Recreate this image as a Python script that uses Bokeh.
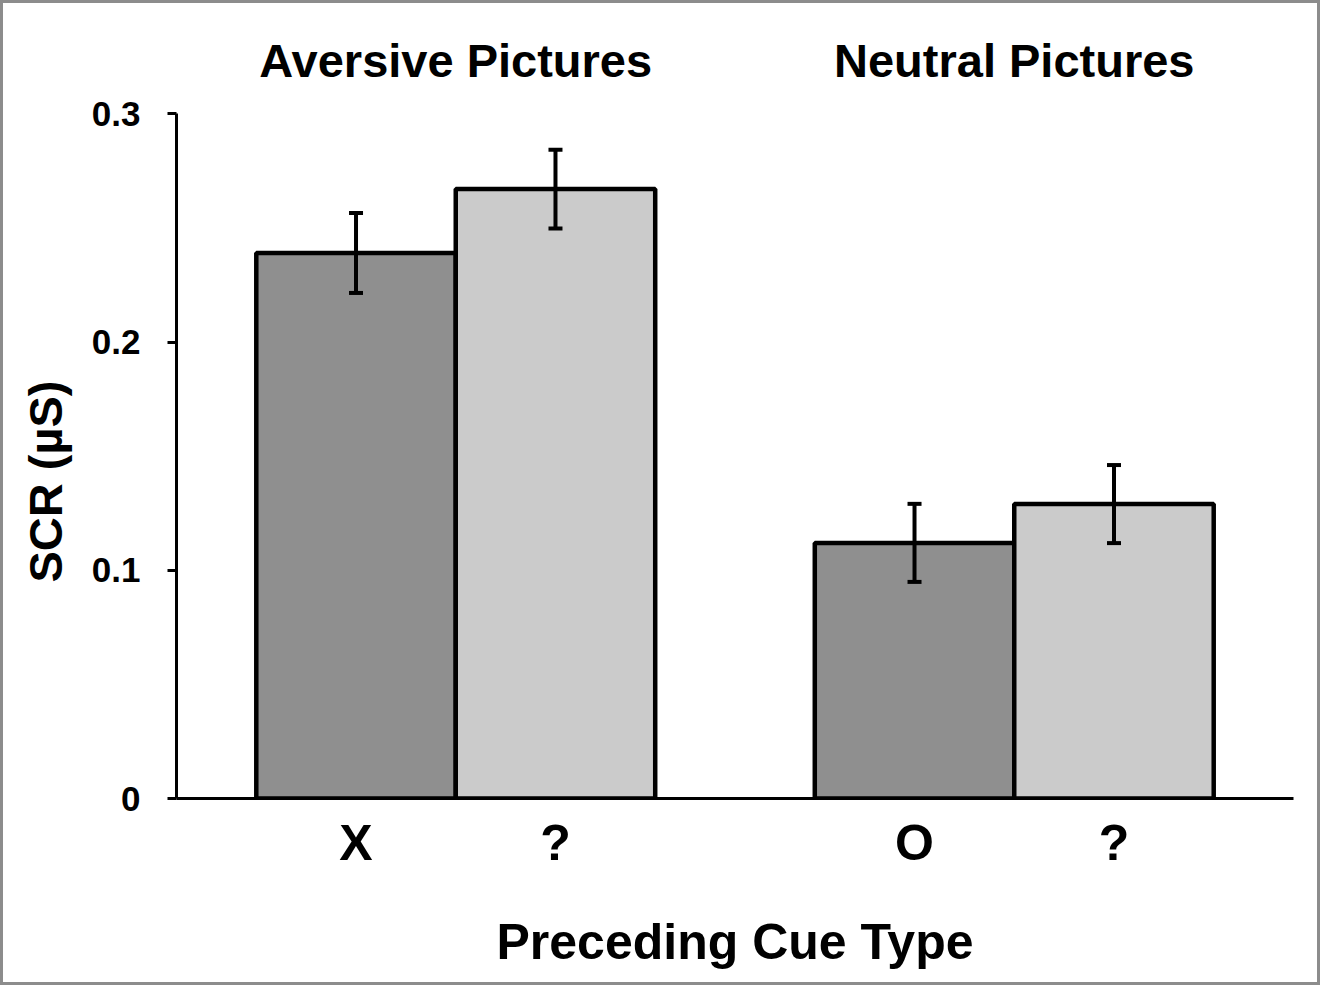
from bokeh.plotting import figure
from bokeh.models import ColumnDataSource, FixedTicker, CustomJSTickFormatter, Whisker, TeeHead, Range1d, Title
from bokeh.core.properties import value
from bokeh.embed import file_html
from bokeh.resources import INLINE

# ---- data ----
groups = ["Aversive Pictures", "Neutral Pictures"]
cues = [["X", "?"], ["O", "?"]]
means = [[0.239, 0.267], [0.112, 0.129]]
sems = [[0.0175, 0.0173], [0.0171, 0.0171]]
colors = ["#8f8f8f", "#cbcbcb"]
y_ticks = [0, 0.1, 0.2, 0.3]
y_title = "SCR (µS)"
x_title = "Preceding Cue Type"

FONT = "Liberation Sans"

# layout in axis units (bar width = 10)
BAR_W = 10
LEFT_GAP = 4
GROUP_GAP = 8

xs, tops, lows, highs, fills, labels = [], [], [], [], [], []
group_centers = []
for g, grp in enumerate(groups):
    start = LEFT_GAP + g * (2 * BAR_W + GROUP_GAP)
    group_centers.append(start + BAR_W)
    for c, cue in enumerate(cues[g]):
        x = start + c * BAR_W + BAR_W / 2
        xs.append(x)
        tops.append(means[g][c])
        lows.append(means[g][c] - sems[g][c])
        highs.append(means[g][c] + sems[g][c])
        fills.append(colors[c])
        labels.append(cue)

src = ColumnDataSource(dict(x=xs, top=tops, lower=lows, upper=highs, fill=fills))

x_end = 2 * LEFT_GAP + 4 * BAR_W + GROUP_GAP
p = figure(width=1320, height=985, output_backend="svg", toolbar_location=None,
           x_range=Range1d(0, x_end), y_range=Range1d(0, 0.34),
           min_border_left=170, min_border_right=30, min_border_top=19, min_border_bottom=190)
p.styles = {"border": "3px solid #8c8c8c"}

p.vbar(x="x", top="top", bottom=0, width=BAR_W, source=src, fill_color="fill",
       line_color="black", line_width=4.5)

w = Whisker(source=src, base="x", upper="upper", lower="lower", line_color="black", line_width=4,
            upper_head=TeeHead(size=14, line_color="black", line_width=4),
            lower_head=TeeHead(size=14, line_color="black", line_width=4))
w.level = "overlay"
p.add_layout(w)

# group titles
p.text(x=group_centers, y=[0.3235, 0.3235], text=groups, text_align="center", text_baseline="middle",
       text_font=value(FONT), text_font_style="bold", text_font_size="47px", text_color="black")

# axes
p.xgrid.visible = False
p.ygrid.visible = False
p.outline_line_color = None
p.background_fill_color = "white"
p.border_fill_color = "white"

ya = p.yaxis[0]
ya.ticker = FixedTicker(ticks=y_ticks)
ya.bounds = (0, 0.3)
ya.formatter = CustomJSTickFormatter(code="return tick == 0 ? '0' : tick.toFixed(1);")
ya.axis_line_width = 3
ya.axis_line_color = "black"
ya.major_tick_line_width = 3
ya.major_tick_line_color = "black"
ya.major_tick_out = 9
ya.major_tick_in = 0
ya.minor_tick_line_color = None
ya.major_label_text_font = FONT
ya.major_label_text_font_style = "bold"
ya.major_label_text_font_size = "35px"
ya.major_label_text_color = "black"
ya.major_label_standoff = 27

# y-axis title as a side title (so it can sit lower, as in the original)
p.add_layout(Title(text=y_title, align="left", offset=216, standoff=30, vertical_align="top",
                   text_font=FONT, text_font_style="bold", text_font_size="47px",
                   text_color="black"), "left")

xa = p.xaxis[0]
xa.ticker = FixedTicker(ticks=xs)
xa.major_label_overrides = {x: l for x, l in zip(xs, labels)}
xa.axis_line_width = 3
xa.axis_line_color = "black"
xa.major_tick_line_color = None
xa.major_tick_out = 0
xa.major_tick_in = 0
xa.minor_tick_line_color = None
xa.major_label_text_font = FONT
xa.major_label_text_font_style = "bold"
xa.major_label_text_font_size = "50px"
xa.major_label_text_color = "black"
xa.major_label_standoff = 16
xa.axis_label = x_title
xa.axis_label_text_font = FONT
xa.axis_label_text_font_style = "bold"
xa.axis_label_text_font_size = "50px"
xa.axis_label_text_color = "black"
xa.axis_label_standoff = 40

open("out.html", "w").write(file_html(p, INLINE))
